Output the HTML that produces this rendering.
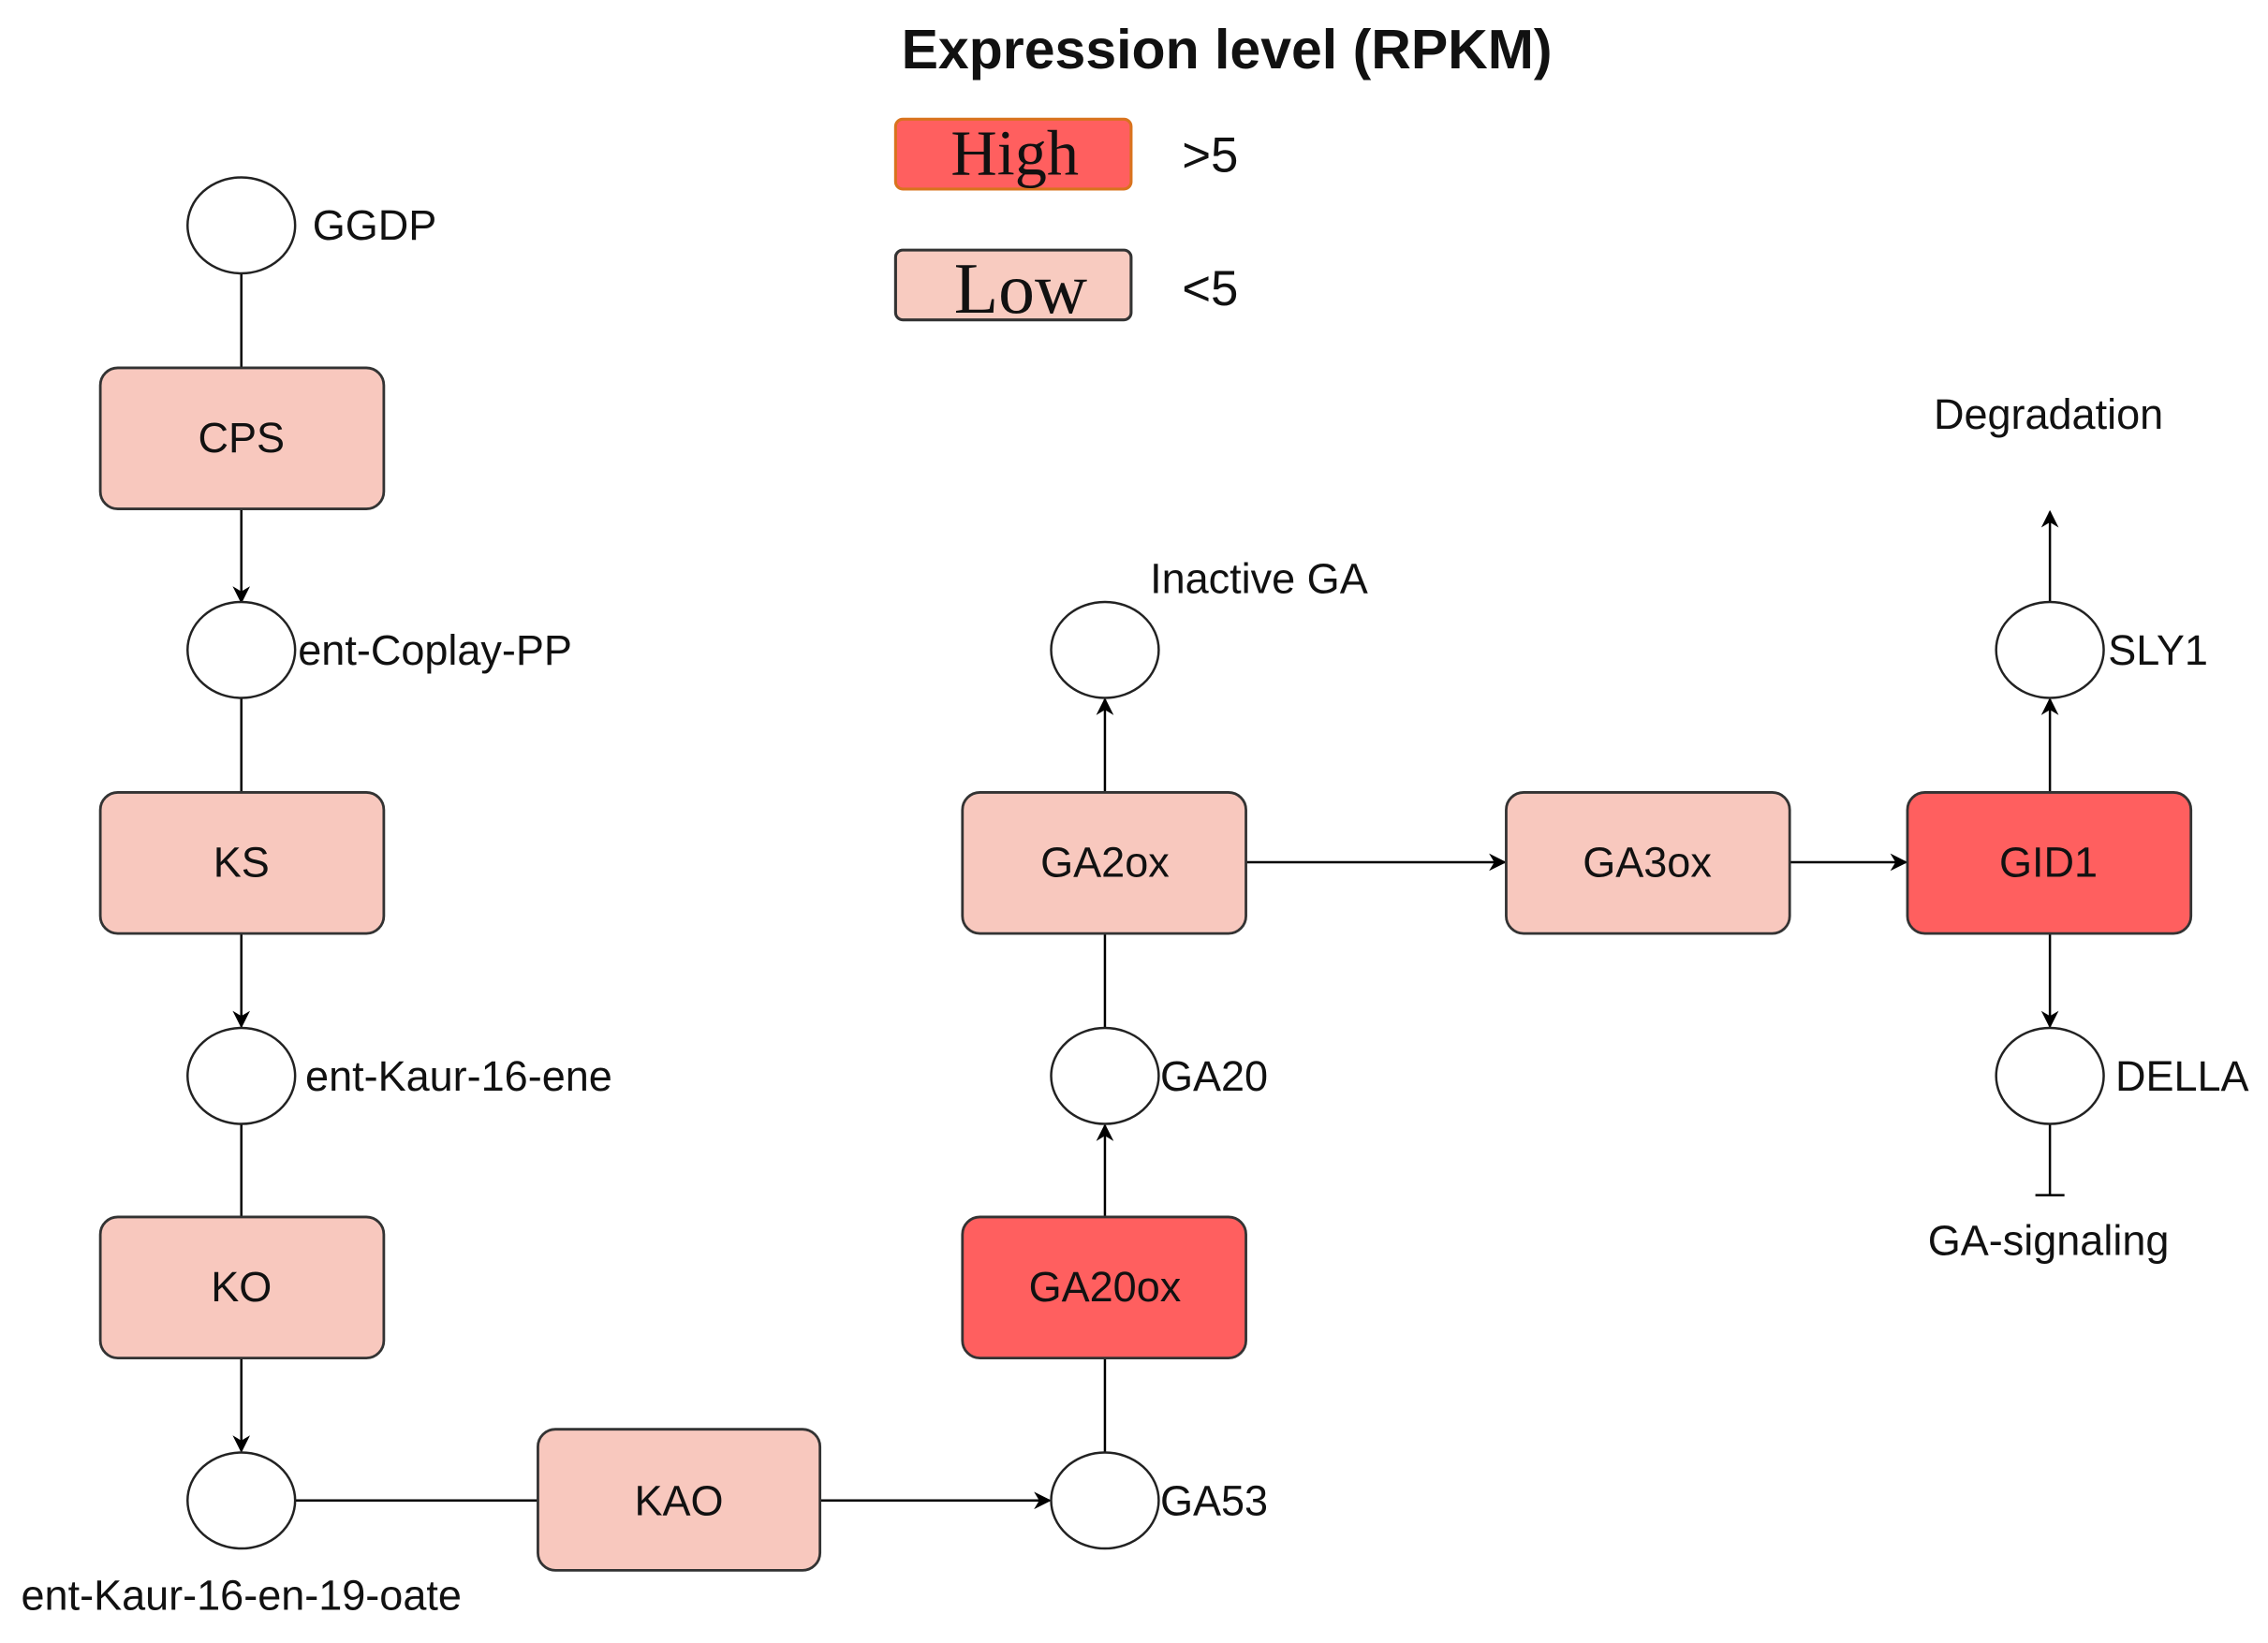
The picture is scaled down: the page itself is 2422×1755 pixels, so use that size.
<!DOCTYPE html>
<html><head><meta charset="utf-8"><style>
html,body{margin:0;padding:0;background:#fff;}
svg{display:block;}
text{font-family:"Liberation Sans",Arial,sans-serif;fill:#111;}
</style></head><body>
<svg width="2422" height="1755" viewBox="0 0 1560 1130" preserveAspectRatio="none" xmlns="http://www.w3.org/2000/svg">
<defs>
<marker id="ar" viewBox="0 0 10 10" refX="9" refY="5" markerWidth="12" markerHeight="12" orient="auto" markerUnits="userSpaceOnUse"><path d="M0,0 L10,5 L0,10 L3,5 z" fill="#000"/></marker>
</defs>
<!-- legend -->
<text x="620" y="47" font-size="38" font-weight="bold">Expression level (RPKM)</text>
<rect x="616" y="82" width="162" height="48" rx="5" fill="#FF5F5F" stroke="#D9731E" stroke-width="2"/>
<text x="698" y="120" font-size="44" text-anchor="middle" style="font-family:'Liberation Serif',serif">High</text>
<text x="813" y="118" font-size="34">&gt;5</text>
<rect x="616" y="172" width="162" height="48" rx="5" fill="#F8CBC0" stroke="#333" stroke-width="2"/>
<text x="702" y="215" font-size="50" text-anchor="middle" style="font-family:'Liberation Serif',serif">Low</text>
<text x="813" y="210" font-size="34">&lt;5</text>

<g stroke="#000" stroke-width="1.6" fill="none">
<line x1="166" y1="188" x2="166" y2="253"/>
<line x1="166" y1="350" x2="166" y2="414" marker-end="url(#ar)"/>
<line x1="166" y1="480" x2="166" y2="545"/>
<line x1="166" y1="642" x2="166" y2="706" marker-end="url(#ar)"/>
<line x1="166" y1="773" x2="166" y2="837"/>
<line x1="166" y1="934" x2="166" y2="998" marker-end="url(#ar)"/>
<line x1="203" y1="1032" x2="370" y2="1032"/>
<line x1="564" y1="1032" x2="722" y2="1032" marker-end="url(#ar)"/>
<line x1="760" y1="999" x2="760" y2="934"/>
<line x1="760" y1="837" x2="760" y2="774" marker-end="url(#ar)"/>
<line x1="760" y1="707" x2="760" y2="642"/>
<line x1="760" y1="545" x2="760" y2="481" marker-end="url(#ar)"/>
<line x1="857" y1="593" x2="1035" y2="593" marker-end="url(#ar)"/>
<line x1="1231" y1="593" x2="1311" y2="593" marker-end="url(#ar)"/>
<line x1="1410" y1="545" x2="1410" y2="481" marker-end="url(#ar)"/>
<line x1="1410" y1="414" x2="1410" y2="352" marker-end="url(#ar)"/>
<line x1="1410" y1="642" x2="1410" y2="706" marker-end="url(#ar)"/>
<line x1="1410" y1="773" x2="1410" y2="822"/>
<line x1="1400" y1="822" x2="1420" y2="822"/>
</g>

<g stroke="#222" stroke-width="1.6" fill="#fff">
<ellipse cx="166" cy="155" rx="37" ry="33"/>
<ellipse cx="166" cy="447" rx="37" ry="33"/>
<ellipse cx="166" cy="740" rx="37" ry="33"/>
<ellipse cx="166" cy="1032" rx="37" ry="33"/>
<ellipse cx="760" cy="1032" rx="37" ry="33"/>
<ellipse cx="760" cy="740" rx="37" ry="33"/>
<ellipse cx="760" cy="447" rx="37" ry="33"/>
<ellipse cx="1410" cy="447" rx="37" ry="33"/>
<ellipse cx="1410" cy="740" rx="37" ry="33"/>
</g>

<g stroke="#333" stroke-width="1.8">
<rect x="69" y="253" width="195" height="97" rx="12" fill="#F8C8BE"/>
<rect x="69" y="545" width="195" height="97" rx="12" fill="#F8C8BE"/>
<rect x="69" y="837" width="195" height="97" rx="12" fill="#F8C8BE"/>
<rect x="370" y="983" width="194" height="97" rx="12" fill="#F8C8BE"/>
<rect x="662" y="837" width="195" height="97" rx="12" fill="#FF5F5F"/>
<rect x="662" y="545" width="195" height="97" rx="12" fill="#F8C8BE"/>
<rect x="1036" y="545" width="195" height="97" rx="12" fill="#F8C8BE"/>
<rect x="1312" y="545" width="195" height="97" rx="12" fill="#FF5F5F"/>
</g>

<g font-size="29" text-anchor="middle">
<text x="166" y="311">CPS</text>
<text x="166" y="603">KS</text>
<text x="166" y="895">KO</text>
<text x="467" y="1042">KAO</text>
<text x="760" y="895">GA20ox</text>
<text x="760" y="603">GA2ox</text>
<text x="1133" y="603">GA3ox</text>
<text x="1409" y="603">GID1</text>
<text x="166" y="1107">ent-Kaur-16-en-19-oate</text>
<text x="1409" y="295">Degradation</text>
<text x="1409" y="863">GA-signaling</text>
</g>
<g font-size="29">
<text x="215" y="165">GGDP</text>
<text x="205" y="457">ent-Coplay-PP</text>
<text x="210" y="750">ent-Kaur-16-ene</text>
<text x="798" y="1042">GA53</text>
<text x="798" y="750">GA20</text>
<text x="791" y="408">Inactive GA</text>
<text x="1450" y="457">SLY1</text>
<text x="1455" y="750">DELLA</text>
</g>
</svg>
</body></html>
